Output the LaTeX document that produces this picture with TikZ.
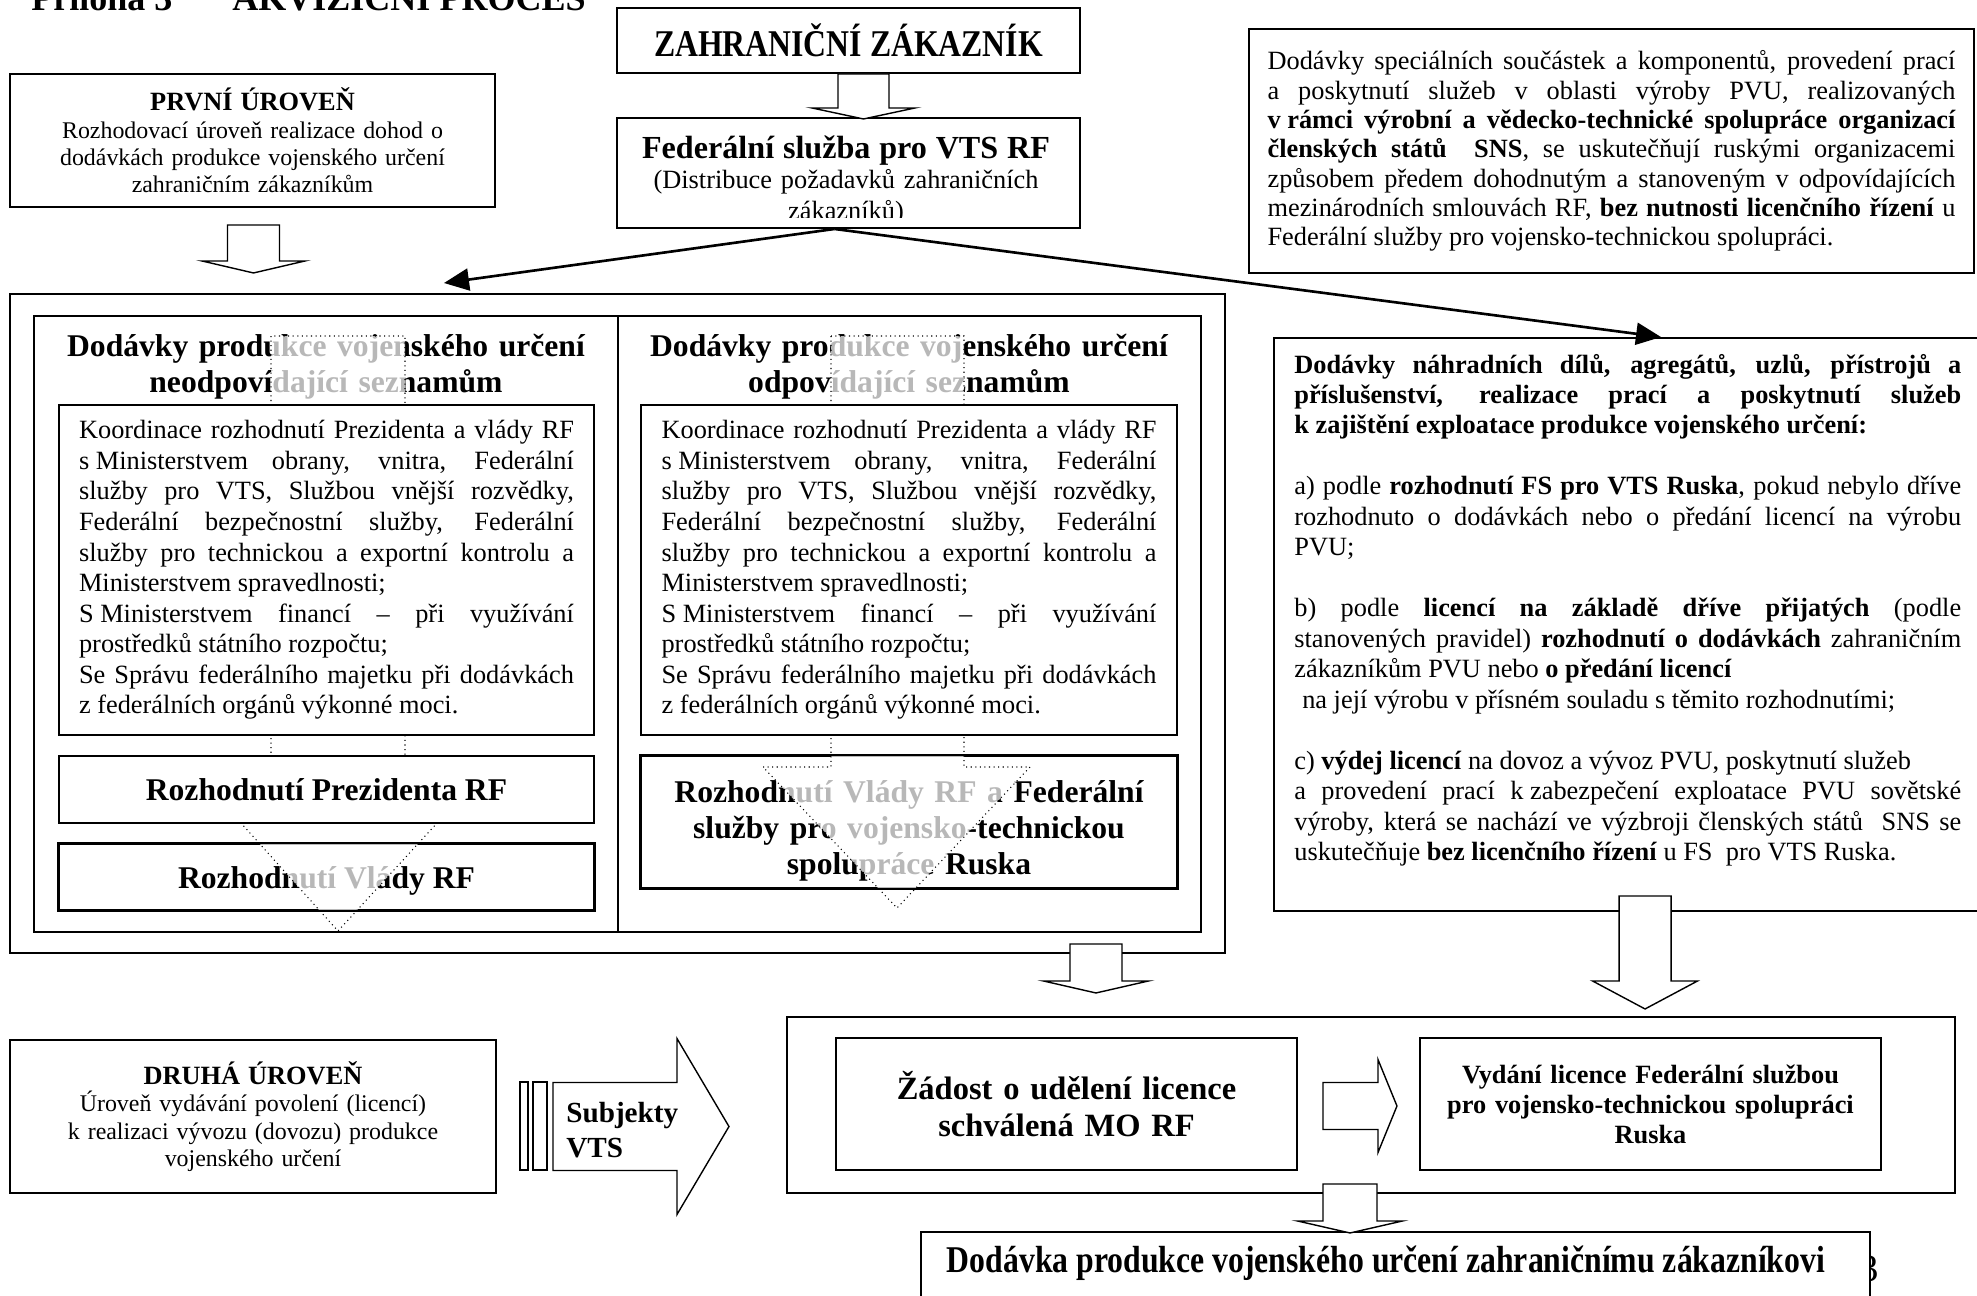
\documentclass[tikz,border=0pt]{standalone}
\usepackage{fontspec}
\setmainfont{Liberation Serif}
\newfontfamily\narrowserif[FakeStretch=0.84]{Liberation Serif}
\usetikzlibrary{positioning, arrows.meta, calc}

\begin{document}
\begin{tikzpicture}[
    x=0.02cm, y=-0.02cm,
    box/.style={draw, line width=1.1pt, fill=white, inner sep=0pt},
    rect/.style 2 args={minimum width=#1*0.02cm, minimum height=#2*0.02cm},
    bodytxt/.style={font=\fontsize{15}{17.4}\selectfont},
    headtxt/.style={font=\bfseries\fontsize{18}{20.5}\selectfont},
    lvltxt/.style={font=\fontsize{13.6}{15.6}\selectfont},
    bigarrow/.style={-{Triangle[length=0.5cm, width=0.44cm]}, line width=1.5pt},
    hollow/.style={draw, fill=white, line width=0.8pt},
    dotarrow/.style={draw, dotted, line width=0.6pt, fill=white, fill opacity=0.72},
    pics/blockdown/.style n args={4}{code={
        \draw[hollow] (-#1,0) -- (-#1,#3) -- (-#2,#3) -- (0,#3+#4)
            -- (#2,#3) -- (#1,#3) -- (#1,0) -- cycle;}},
    pics/blockright/.style n args={4}{code={
        \draw[hollow] (0,-#1) -- (#3,-#1) -- (#3,-#2) -- (#3+#4,0)
            -- (#3,#2) -- (#3,#1) -- (0,#1) -- cycle;}},
]
\useasboundingbox (0,0) rectangle (1977,1295);
\clip (0,0) rectangle (1977,1295);

% ── Title (cut by the page edge) ──
\node[anchor=base west, inner sep=0pt, font=\bfseries\fontsize{20.5}{24}\selectfont]
    (title) at (31,10) {Příloha 3\hspace{1.2cm}AKVIZIČNÍ PROCES};

% ── Big frame with the two columns ──
\node[box, rect={1215}{659}] (big) at (617.5,623.5) {};
\node[box, fill=none, rect={584}{616}] (colL) at (326,624) {};
\node[box, fill=none, rect={583}{616}] (colR) at (909.5,624) {};

% ── Customer and federal service ──
\node[box, rect={463}{65}, font=\narrowserif\bfseries\fontsize{21.5}{24}\selectfont]
    (zak) at (848.5,40.5) {ZAHRANIČNÍ ZÁKAZNÍK};
\node[box, rect={463}{110}] (fed) at (848.5,173) {};
\begin{scope}
  \clip (617,118) rectangle (1080,217);
  \node[anchor=base, text width=9cm, align=center, inner sep=0pt, bodytxt] (fedtext) at (846,158)
      {{\bfseries\fontsize{18.3}{20}\selectfont Federální služba pro VTS RF}\\(Distribuce požadavků zahraničních\\zákazníků)};
\end{scope}

% ── First level ──
\node[box, rect={485}{133}, text width=9.2cm, align=center, lvltxt]
    (prvni) at (252.5,140.5) {{\bfseries\fontsize{15}{15.6}\selectfont PRVNÍ ÚROVEŇ}\\Rozhodovací úroveň realizace dohod o\\dodávkách produkce vojenského určení\\zahraničním zákazníkům};

% ── SNS note ──
\node[box, rect={725}{244}, text width=13.76cm, align=justify,
      font=\fontsize{15}{16.7}\selectfont]
    (sns) at (1611.5,151) {Dodávky speciálních součástek a komponentů, provedení prací\linebreak
      a poskytnutí služeb v oblasti výroby PVU, realizovaných\linebreak
      \textbf{\mbox{v rámci} výrobní a vědecko-technické spolupráce organizací\linebreak
      členských států\ \ SNS}, se uskutečňují ruskými organizacemi\linebreak
      způsobem předem dohodnutým a stanoveným v odpovídajících\linebreak
      mezinárodních smlouvách RF, \textbf{bez nutnosti licenčního řízení} u\linebreak
      Federální služby pro vojensko-technickou spolupráci.};

% ── Column headings ──
\node[anchor=base, text width=11cm, align=center, inner sep=0pt, headtxt]
    (headL) at (326,356) {Dodávky produkce vojenského určení\\neodpovídající seznamům};
\node[anchor=base, text width=11cm, align=center, inner sep=0pt, headtxt]
    (headR) at (909,356) {Dodávky produkce vojenského určení\\odpovídající seznamům};

% ── Decision boxes under the dotted arrows ──
\node[box, rect={535}{66}, headtxt, text depth=0pt] (vladaL) at (326.5,877) {Rozhodnutí Vlády RF};
\node[box, rect={536}{132}] (fsR) at (909,822) {};
\node[anchor=base, text width=10.2cm, align=center, inner sep=0pt, headtxt]
    (fstext) at (909,802) {Rozhodnutí Vlády RF a Federální\\služby pro vojensko-technickou\\spolupráce Ruska};

% ── Dotted arrows ──
\draw[dotarrow] (271,336) -- (271,823) -- (241,823) -- (338,931) -- (437,823)
    -- (405,823) -- (405,336) -- cycle;
\draw[dotarrow] (831,336) -- (831,767) -- (763,767) -- (897,908) -- (1030,767)
    -- (964,767) -- (964,336) -- cycle;
\draw[line width=1.1pt] (vladaL.north west) rectangle (vladaL.south east);
\draw[line width=1.1pt] (fsR.north west) rectangle (fsR.south east);

% ── Coordination boxes ──
\node[box, rect={535}{330}, text width=9.9cm, align=justify, bodytxt]
    (koordL) at (326.5,570) {Koordinace rozhodnutí Prezidenta a vlády RF\linebreak
      \mbox{s Ministerstvem} obrany, vnitra, Federální\linebreak
      služby pro VTS, Službou vnější rozvědky,\linebreak
      Federální bezpečnostní služby, Federální\linebreak
      služby pro technickou a exportní kontrolu a\linebreak
      Ministerstvem spravedlnosti;\par
      \mbox{S Ministerstvem} financí – při využívání\linebreak
      prostředků státního rozpočtu;\par
      Se Správu federálního majetku při dodávkách\linebreak
      z federálních orgánů výkonné moci.};
\node[box, rect={536}{330}, text width=9.9cm, align=justify, bodytxt]
    (koordR) at (909,570) {Koordinace rozhodnutí Prezidenta a vlády RF\linebreak
      \mbox{s Ministerstvem} obrany, vnitra, Federální\linebreak
      služby pro VTS, Službou vnější rozvědky,\linebreak
      Federální bezpečnostní služby, Federální\linebreak
      služby pro technickou a exportní kontrolu a\linebreak
      Ministerstvem spravedlnosti;\par
      \mbox{S Ministerstvem} financí – při využívání\linebreak
      prostředků státního rozpočtu;\par
      Se Správu federálního majetku při dodávkách\linebreak
      z federálních orgánů výkonné moci.};
\node[box, rect={535}{67}, headtxt] (prezL) at (326.5,789.5) {Rozhodnutí Prezidenta RF};

% ── Spare parts box ──
\node[box, rect={736}{573}] (nahr) at (1642,624.5) {};
\node[anchor=base west, text width=13.34cm, align=justify, inner sep=0pt,
      font=\fontsize{15}{17.35}\selectfont]
    (nahrtext) at (1294,373) {\textbf{Dodávky náhradních dílů, agregátů, uzlů, přístrojů a\linebreak
      příslušenství, realizace prací a poskytnutí služeb\linebreak
      \mbox{k zajištění} exploatace produkce vojenského určení:}\par
      \vspace{\baselineskip}
      a) podle \textbf{rozhodnutí FS pro VTS Ruska}, pokud nebylo dříve\linebreak
      rozhodnuto o dodávkách nebo o předání licencí na výrobu\linebreak
      PVU;\par
      \vspace{\baselineskip}
      b) podle \textbf{licencí na základě dříve přijatých} (podle\linebreak
      stanovených pravidel) \textbf{rozhodnutí o dodávkách} zahraničním\linebreak
      zákazníkům PVU nebo \textbf{o předání licencí}\newline
      \hspace*{0.3em}na její výrobu v přísném souladu s těmito rozhodnutími;\par
      \vspace{\baselineskip}
      c) \textbf{výdej licencí} na dovoz a vývoz PVU, poskytnutí služeb\newline
      a provedení prací \mbox{k zabezpečení} exploatace PVU sovětské\linebreak
      výroby, která se nachází ve výzbroji členských států\ \ SNS se\linebreak
      uskutečňuje \textbf{bez licenčního řízení} u FS\ \ pro VTS Ruska.};

% ── Arrows from the federal service ──
\coordinate (fedout) at ($(fed.south)+(-14,0)$);
\coordinate (tipL) at (444,283);
\coordinate (tipR) at ($(nahr.north west)+(388,0)$);
\draw[bigarrow] (fedout) -- (tipL);
\draw[bigarrow] (fedout) -- (tipR);

% ── Second level ──
\node[box, rect={486}{153}, text width=9.2cm, align=center, lvltxt]
    (druha) at (253,1116.5) {{\bfseries\fontsize{15}{15.6}\selectfont DRUHÁ ÚROVEŇ}\\Úroveň vydávání povolení (licencí)\\k realizaci vývozu (dovozu) produkce\\vojenského určení};
\draw[hollow] (520,1082) rectangle (528,1170);
\draw[hollow] (533,1082) rectangle (547,1170);
\pic at ($(druha.east)+(56,10)$) {blockright={44}{88}{124}{52}};
\node[anchor=base west, text width=3cm, align=left, inner sep=0pt,
      font=\bfseries\fontsize{16.6}{20}\selectfont] (subj) at (566,1122) {Subjekty\\VTS};

% ── Licence boxes ──
\node[box, rect={1168}{176}] (licbox) at (1371,1105) {};
\node[box, rect={461}{132}, text width=8.5cm, align=center,
      font=\bfseries\fontsize{18.5}{21}\selectfont]
    (zadost) at (1066.5,1104) {Žádost o udělení licence\\schválená MO RF};
\node[box, rect={461}{132}, text width=8.6cm, align=center,
      font=\bfseries\fontsize{15}{17}\selectfont]
    (vydani) at (1650.5,1104) {Vydání licence Federální službou\\pro vojensko-technickou spolupráci\\Ruska};
\pic at ($(zadost.east)+(25,2)$) {blockright={23.5}{46.5}{55}{19}};

% ── Delivery ──
\node[anchor=base, inner sep=0pt, font=\fontsize{22}{24}\selectfont] (pagenum) at (1869,1281) {3};
\node[box, rect={949}{113}] (dodavka) at (1395.5,1288.5) {};
\node[anchor=base, inner sep=0pt, font=\narrowserif\bfseries\fontsize{21.5}{24}\selectfont]
    (dodtext) at (1386,1272) {Dodávka produkce vojenského určení zahraničnímu zákazníkovi};

% ── Hollow block arrows ──
\pic at ($(zak.south)+(15,0)$) {blockdown={25.5}{51.5}{34}{11}};
\pic at ($(prvni.south)+(1,17)$) {blockdown={26}{51.5}{36}{12}};
\pic at ($(big.south east)+(-130,-10)$) {blockdown={26}{52.5}{37}{12}};
\pic at ($(nahr.south west)+(372,-16)$) {blockdown={26}{52.5}{85}{28}};
\pic at ($(licbox.south)+(-21,-10)$) {blockdown={27}{52.5}{37}{12}};

\end{tikzpicture}
\end{document}
